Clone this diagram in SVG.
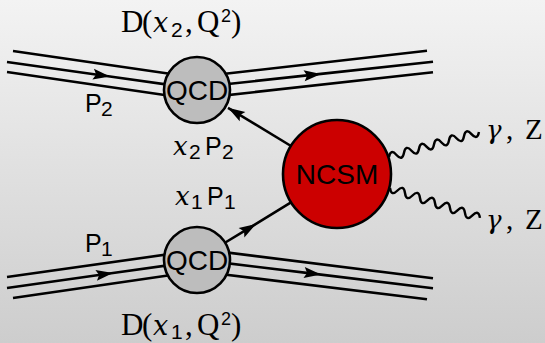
<svg xmlns="http://www.w3.org/2000/svg" width="545" height="343" viewBox="0 0 545 343">
<defs>
<linearGradient id="bg" x1="0" y1="0" x2="0" y2="1">
<stop offset="0" stop-color="#f3f3f3"/>
<stop offset="1" stop-color="#cdcdcd"/>
</linearGradient>
<marker id="arr" viewBox="-18 -7 19 14" refX="0" refY="0" markerWidth="19" markerHeight="14" markerUnits="userSpaceOnUse" orient="auto">
<path d="M0,0 L-17,-5.5 L-14,0 L-17,5.5 Z" fill="#000"/>
</marker>
<style>
.ln{fill:none;stroke:#000;stroke-width:2.6}
.wv{fill:none;stroke:#000;stroke-width:2.4}
.mid{marker-mid:url(#arr)}
.end{marker-end:url(#arr)}
.qcd{fill:#bdbdbd;stroke:#000;stroke-width:2.6}
.ncsm{fill:#cc0000;stroke:#000;stroke-width:2.6}
.big{font-family:"Liberation Sans",Arial,sans-serif;font-size:28px;fill:#000;text-anchor:middle}
.sans{font-family:"Liberation Sans",Arial,sans-serif;fill:#000}
.ser{font-family:"Liberation Serif","Times New Roman",serif;fill:#000}
.mx{font-family:"DejaVu Serif",serif;font-style:italic}
</style>
</defs>
<rect x="0" y="0" width="545" height="343" fill="url(#bg)"/>
<g id="connectors">
<path class="ln" d="M13,51 L180,75.2"/>
<path class="ln mid" d="M7,62 L110,76.5 L180,86.4"/>
<path class="ln" d="M7,72 L180,97.2"/>
<path class="ln" d="M214,75 L427,50.7"/>
<path class="ln mid" d="M214,85.5 L321,73.9 L433,61.7"/>
<path class="ln" d="M214,96.6 L433,72.3"/>
<path class="ln" d="M7,277 L180,252.6"/>
<path class="ln mid" d="M7,288 L113,273 L180,263.6"/>
<path class="ln" d="M13,298 L180,273.8"/>
<path class="ln" d="M214,250.9 L433,278.3"/>
<path class="ln mid" d="M214,261.6 L321,274.6 L433,288.3"/>
<path class="ln" d="M214,273.3 L427,299.3"/>
<path class="ln end" d="M291,146 L228,107.8"/>
<path class="ln mid" d="M222,244.5 L256,223.9 L291,202.3"/>
<path class="wv" transform="translate(389,157) rotate(-15.5)" d="M0,0 q3.89,-8 7.78,0 t7.78,0 t7.78,0 t7.78,0 t7.78,0 t7.78,0 t7.78,0 t7.78,0 t7.78,0 t7.78,0 t7.78,0 t7.78,0"/>
<path class="wv" transform="translate(390,188) rotate(18.4)" d="M0,0 q3.95,8 7.9,0 t7.9,0 t7.9,0 t7.9,0 t7.9,0 t7.9,0 t7.9,0 t7.9,0 t7.9,0 t7.9,0 t7.9,0 t7.9,0"/>
</g>
<g id="qcd-top">
<circle class="qcd" cx="197" cy="90" r="33"/>
<text class="big" x="197" y="100">QCD</text>
</g>
<g id="qcd-bottom">
<circle class="qcd" cx="197" cy="260" r="33"/>
<text class="big" x="197" y="270">QCD</text>
</g>
<g id="ncsm">
<circle class="ncsm" cx="337" cy="174" r="54"/>
<text class="big" x="337" y="184">NCSM</text>
</g>
<g id="labels">
<text class="ser" font-size="31" y="32"><tspan x="121">D</tspan><tspan x="142">(</tspan><tspan x="153" class="mx" font-size="27">x</tspan><tspan x="171" dy="5" class="sans" font-size="21">2</tspan><tspan x="185" dy="-5">,</tspan><tspan x="197">Q</tspan><tspan x="221" dy="-10" class="sans" font-size="18">2</tspan><tspan x="231" dy="10">)</tspan></text>
<text class="ser" font-size="31" y="335"><tspan x="121">D</tspan><tspan x="142">(</tspan><tspan x="153" class="mx" font-size="27">x</tspan><tspan x="171" dy="4" class="sans" font-size="21">1</tspan><tspan x="185" dy="-4">,</tspan><tspan x="197">Q</tspan><tspan x="221" dy="-10" class="sans" font-size="18">2</tspan><tspan x="231" dy="10">)</tspan></text>
<text class="sans" font-size="25" y="112"><tspan x="85">P</tspan><tspan x="101" dy="4" font-size="21">2</tspan></text>
<text class="sans" font-size="25" y="252"><tspan x="85">P</tspan><tspan x="101" dy="4" font-size="21">1</tspan></text>
<text class="sans" font-size="25" y="155"><tspan x="173" class="mx" font-size="26">x</tspan><tspan x="189" dy="4" font-size="21">2</tspan><tspan x="205" dy="-4">P</tspan><tspan x="222" dy="4" font-size="21">2</tspan></text>
<text class="sans" font-size="25" y="205"><tspan x="175" class="mx" font-size="26">x</tspan><tspan x="191" dy="4" font-size="21">1</tspan><tspan x="207" dy="-4">P</tspan><tspan x="224" dy="4" font-size="21">1</tspan></text>
<text class="ser" font-size="29" y="139"><tspan x="486" class="mx" font-size="26">γ</tspan><tspan x="506">,</tspan><tspan x="525">Z</tspan></text>
<text class="ser" font-size="29" y="229"><tspan x="486" class="mx" font-size="26">γ</tspan><tspan x="506">,</tspan><tspan x="525">Z</tspan></text>
</g>
</svg>
